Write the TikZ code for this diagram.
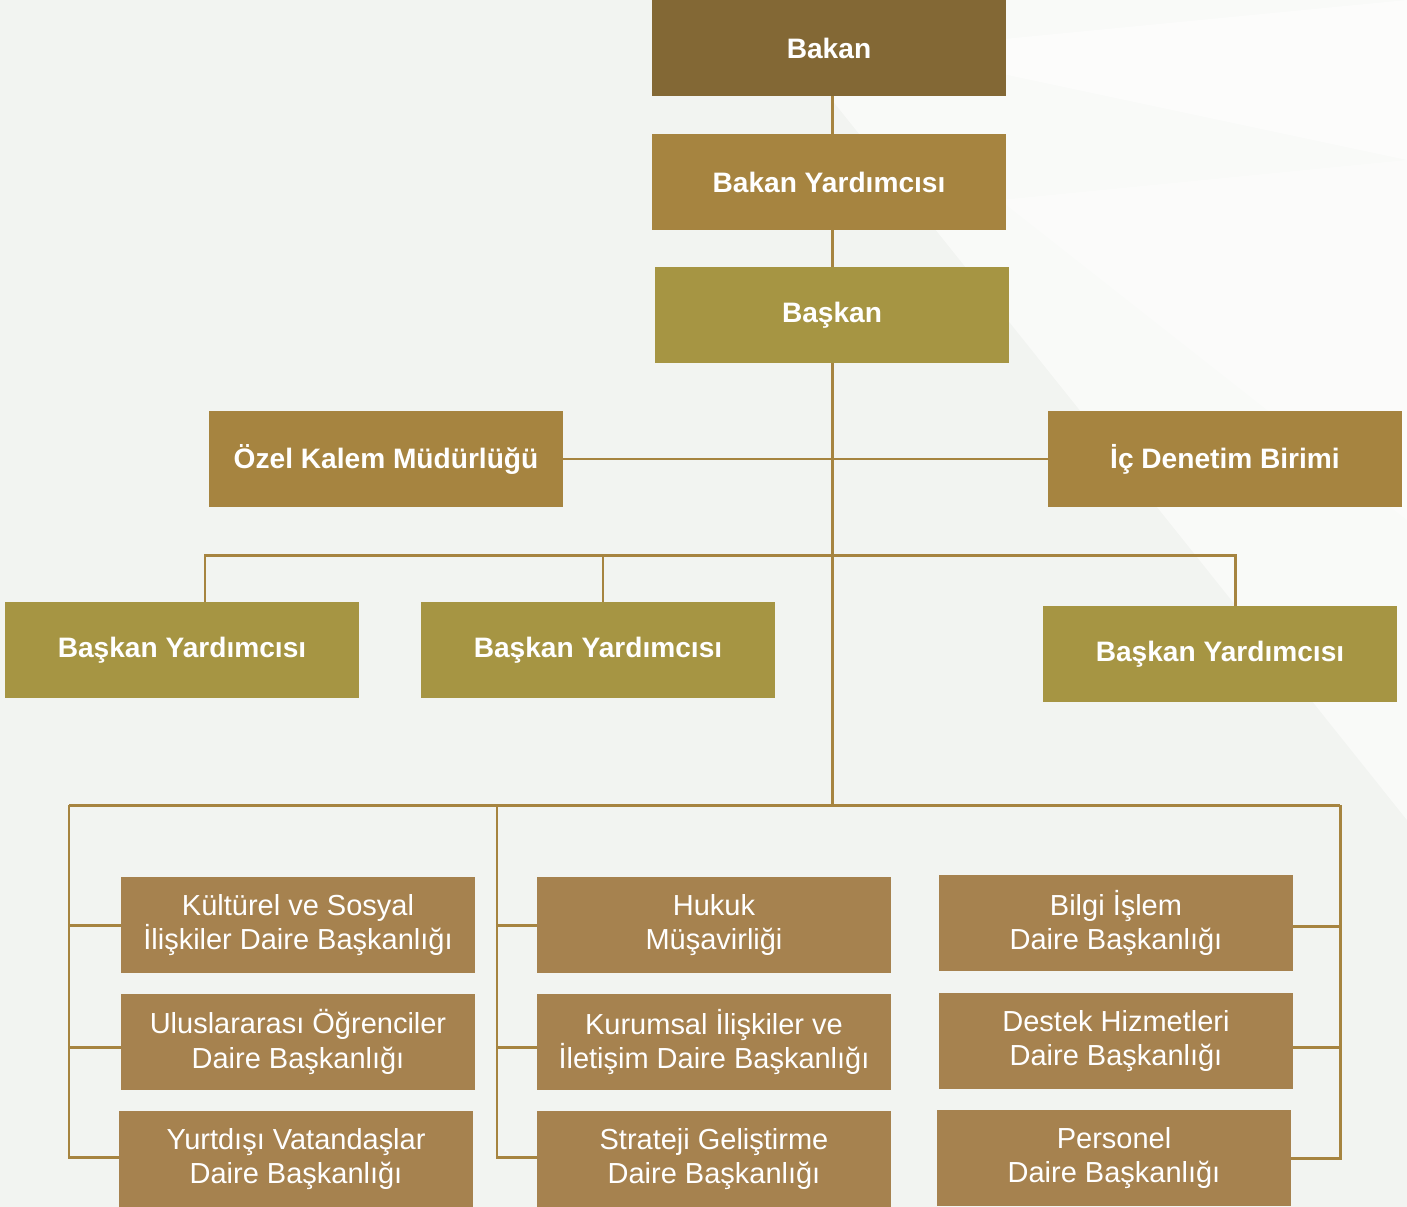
\documentclass[tikz,border=0pt]{standalone}
\usepackage{fontspec}
\setmainfont{Liberation Sans}
\definecolor{bgray}{HTML}{F2F4F1}
\definecolor{koyu}{HTML}{836835}
\definecolor{altin}{HTML}{A68440}
\definecolor{zeytin}{HTML}{A69543}
\definecolor{daire}{HTML}{A6824F}
\begin{document}
\begin{tikzpicture}[x=0.02cm,y=-0.02cm,
    kutu/.style={minimum width=7.08cm,minimum height=1.92cm,inner sep=0pt,text=white,align=center,font=\fontsize{16}{19.8}\selectfont\bfseries},
    birim/.style={kutu,fill=daire,font=\fontsize{16.5}{19.8}\selectfont},
    baglanti/.style={draw=altin,line width=1.7pt}]
  \fill[bgray] (0,0) rectangle (1407,1207);
  \useasboundingbox (0,0) rectangle (1407,1207);
  \fill[white,opacity=.55] (832,100) -- (880,0) -- (1407,0) -- (1407,820) -- cycle;
  \fill[white,opacity=.5] (890,50) -- (1407,0) -- (1407,160) -- cycle;
  \fill[white,opacity=.35] (1000,200) -- (1407,160) -- (1407,520) -- cycle;

  \node[kutu,fill=koyu] (bakan) at (829,48) {Bakan};
  \node[kutu,fill=altin] (bakanyrd) at (829,182) {Bakan Yardımcısı};
  \node[kutu,fill=zeytin] (baskan) at (832,315) {Başkan};
  \node[kutu,fill=altin] (ozel) at (386,459) {Özel Kalem Müdürlüğü};
  \node[kutu,fill=altin] (icden) at (1225,459) {İç Denetim Birimi};
  \node[kutu,fill=zeytin] (byrd1) at (182,650) {Başkan Yardımcısı};
  \node[kutu,fill=zeytin] (byrd2) at (598,650) {Başkan Yardımcısı};
  \node[kutu,fill=zeytin] (byrd3) at (1220,654) {Başkan Yardımcısı};

  \node[birim] (kultur) at (298,925) {Kültürel ve Sosyal\\İlişkiler Daire Başkanlığı};
  \node[birim] (ogrenci) at (298,1042) {Uluslararası Öğrenciler\\Daire Başkanlığı};
  \node[birim] (yurtdisi) at (296,1159) {Yurtdışı Vatandaşlar\\Daire Başkanlığı};
  \node[birim] (hukuk) at (714,925) {Hukuk\\Müşavirliği};
  \node[birim] (kurumsal) at (714,1042) {Kurumsal İlişkiler ve\\İletişim Daire Başkanlığı};
  \node[birim] (strateji) at (714,1159) {Strateji Geliştirme\\Daire Başkanlığı};
  \node[birim] (bilgi) at (1116,923) {Bilgi İşlem\\Daire Başkanlığı};
  \node[birim] (destek) at (1116,1041) {Destek Hizmetleri\\Daire Başkanlığı};
  \node[birim] (personel) at (1114,1158) {Personel\\Daire Başkanlığı};

  \coordinate (orta) at (832,805);
  \coordinate (ybar) at (0,555);
  \coordinate (sol) at (69,805);
  \coordinate (mid) at (497,805);
  \coordinate (sag) at (1340,805);

  \draw[baglanti] (bakan.south -| baskan) -- (bakanyrd.north -| baskan);
  \draw[baglanti] (bakanyrd.south -| baskan) -- (baskan.north);
  \draw[baglanti] (baskan.south) -- (orta);
  \draw[baglanti] (ozel.east) -- (icden.west);
  \draw[baglanti] ([xshift=0.46cm]byrd1.north) -- ([xshift=0.46cm]byrd1.north |- ybar)
    -- ([xshift=0.3cm]byrd3.north |- ybar) -- ([xshift=0.3cm]byrd3.north);
  \draw[baglanti] ([xshift=0.1cm]byrd2.north) -- ([xshift=0.1cm]byrd2.north |- ybar);
  \draw[baglanti] (sol) -- (sag);

  \draw[baglanti] (sol) |- ([yshift=0.04cm]yurtdisi.west);
  \draw[baglanti] (sol |- kultur.west) -- (kultur.west);
  \draw[baglanti] ([yshift=-0.1cm]sol |- ogrenci.west) -- ([yshift=-0.1cm]ogrenci.west);
  \draw[baglanti] (mid) |- ([yshift=0.04cm]strateji.west);
  \draw[baglanti] (mid |- hukuk.west) -- (hukuk.west);
  \draw[baglanti] ([yshift=-0.1cm]mid |- kurumsal.west) -- ([yshift=-0.1cm]kurumsal.west);
  \draw[baglanti] (sag) |- (personel.east);
  \draw[baglanti] ([yshift=-0.06cm]sag |- bilgi.east) -- ([yshift=-0.06cm]bilgi.east);
  \draw[baglanti] ([yshift=-0.12cm]sag |- destek.east) -- ([yshift=-0.12cm]destek.east);
\end{tikzpicture}
\end{document}
